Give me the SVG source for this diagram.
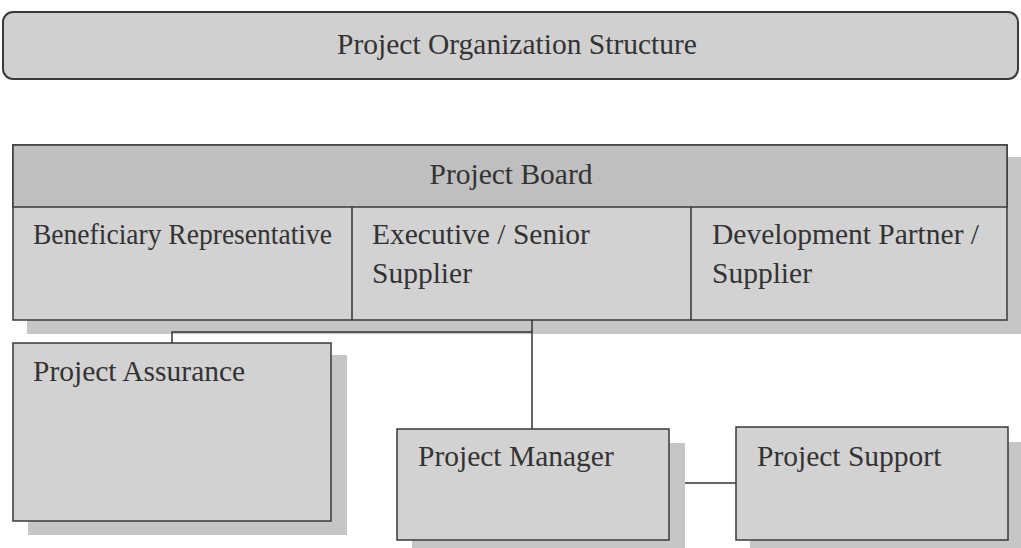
<svg xmlns="http://www.w3.org/2000/svg" width="1021" height="548" viewBox="0 0 1021 548">
<defs>
<style>
.box{fill:#d2d2d2;stroke:#3a3a3a;stroke-width:1.5}
.hdr{fill:#bfbfbf;stroke:#3a3a3a;stroke-width:1.5}
.sh{fill:#c6c6c6}
.t{font-family:"Liberation Serif","Times New Roman",serif;font-size:29.5px;fill:#333}
.conn{stroke:#333;stroke-width:1.5;fill:none}
</style>
</defs>
<rect width="1021" height="548" fill="#ffffff"/>
<g id="title">
<rect x="3" y="12" width="1015" height="67" rx="10" fill="#d0d0d0" stroke="#3a3a3a" stroke-width="2"/>
<text class="t" x="517" y="54" text-anchor="middle" font-size="30">Project Organization Structure</text>
</g>
<g id="project-board">
<rect class="sh" x="27" y="157" width="994" height="177"/>
<rect class="box" x="13" y="145" width="994" height="175"/>
<rect class="hdr" x="13" y="145" width="994" height="62"/>
<line class="conn" x1="352" y1="207" x2="352" y2="320"/>
<line class="conn" x1="691" y1="207" x2="691" y2="320"/>
<text class="t" x="511" y="184" text-anchor="middle">Project Board</text>
</g>
<g id="beneficiary">
<text class="t" x="33" y="244" font-size="27" textLength="299" lengthAdjust="spacingAndGlyphs">Beneficiary Representative</text>
</g>
<g id="executive">
<text class="t" x="372" y="244">Executive / Senior</text>
<text class="t" x="372" y="283">Supplier</text>
</g>
<g id="development">
<text class="t" x="712" y="244">Development Partner /</text>
<text class="t" x="712" y="283">Supplier</text>
</g>
<g id="connectors">
<line class="conn" x1="532" y1="320" x2="532" y2="429"/>
<polyline class="conn" points="532,332 172,332 172,343"/>
<line class="conn" x1="669" y1="483" x2="736" y2="483"/>
</g>
<g id="project-assurance">
<rect class="sh" x="28" y="355" width="319" height="180"/>
<rect class="box" x="13" y="343" width="318" height="178"/>
<text class="t" x="33" y="381">Project Assurance</text>
</g>
<g id="project-manager">
<rect class="sh" x="412" y="443" width="273" height="105"/>
<rect class="box" x="397" y="429" width="272" height="111"/>
<text class="t" x="418" y="466">Project Manager</text>
</g>
<g id="project-support">
<rect class="sh" x="750" y="442" width="271" height="106"/>
<rect class="box" x="736" y="427" width="272" height="113"/>
<text class="t" x="757" y="466">Project Support</text>
</g>
</svg>
